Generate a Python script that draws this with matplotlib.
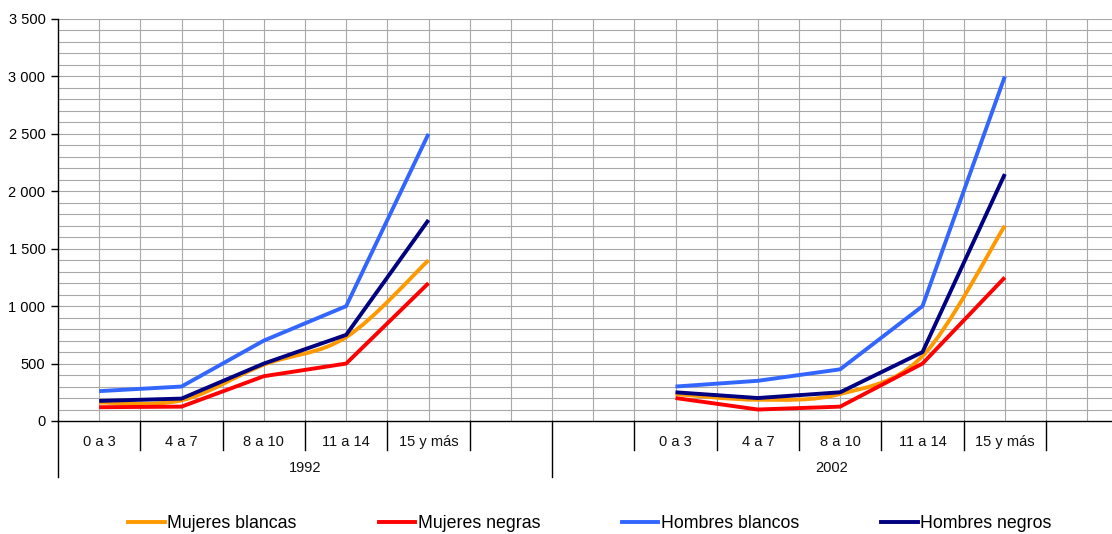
import matplotlib
matplotlib.use("Agg")
import matplotlib.pyplot as plt
import numpy as np
from matplotlib.path import Path
from matplotlib.patches import PathPatch
from matplotlib.lines import Line2D

plt.rcParams['font.family'] = ['Liberation Sans', 'DejaVu Sans']

# ---------------- data ----------------
categories = ["0 a 3", "4 a 7", "8 a 10", "11 a 14", "15 y más"]
years = ["1992", "2002"]
series_names = ["Mujeres blancas", "Mujeres negras", "Hombres blancos", "Hombres negros"]

mujeres_blancas_1992 = [160, 180, 490, 730, 1400]
mujeres_negras_1992 = [120, 125, 390, 500, 1200]
hombres_blancos_1992 = [260, 300, 700, 1000, 2500]
hombres_negros_1992 = [175, 195, 500, 750, 1750]

mujeres_blancas_2002 = [235, 185, 235, 565, 1700]
mujeres_negras_2002 = [200, 100, 125, 500, 1250]
hombres_blancos_2002 = [300, 350, 450, 1000, 3000]
hombres_negros_2002 = [250, 200, 250, 600, 2150]

y_ticks = [0, 500, 1000, 1500, 2000, 2500, 3000, 3500]

# ---------------- style ----------------
colors = ["#FF9900", "#FF0000", "#3366FF", "#000080"]
smoothed = [True, False, False, False]
W, H = 1112, 534
fig = plt.figure(figsize=(W / 100, H / 100), dpi=100)
ax_left, ax_right, ax_top, ax_bottom = 58, 1112, 19, 421
ax = fig.add_axes([ax_left / W, 1 - ax_bottom / H, (ax_right - ax_left) / W, (ax_bottom - ax_top) / H])

slot_px = (552 - 58) / 6.0
n_slots = (ax_right - ax_left) / slot_px
ax.set_xlim(0, n_slots)
ax.set_ylim(0, 3500)

# slot layout: 1992 -> slots 0..5 (5 categories + blank), 2002 -> blank slot 6, categories 7..11
group_start_slot = {"1992": 0, "2002": 7}
group_bounds = {"1992": (0, 6), "2002": (6, n_slots)}

# grid
for yv in np.arange(100, 3501, 100):
    ax.axhline(yv, color="#a8a8a8", lw=0.8, zorder=1)
for xv in np.arange(0.5, n_slots, 0.5):
    ax.axvline(xv, color="#a8a8a8", lw=0.8, zorder=1)

for s in ["top", "right"]:
    ax.spines[s].set_visible(False)
ax.spines["left"].set_linewidth(1.0)
ax.spines["bottom"].set_linewidth(1.0)
ax.spines["left"].set_zorder(5)
ax.spines["bottom"].set_zorder(5)

ax.set_yticks(y_ticks)
ax.set_yticklabels([f"{v:,}".replace(",", " ") for v in y_ticks], fontsize=10.5)
ax.tick_params(axis="y", length=5, width=1, pad=4)
ax.set_xticks([])


def line_path(xs, ys, smooth, t=1.0 / 6.0):
    pts = np.column_stack([np.asarray(xs, float), np.asarray(ys, float)])
    n = len(pts)
    if not smooth:
        return Path(pts, [Path.MOVETO] + [Path.LINETO] * (n - 1))
    verts = [pts[0]]
    codes = [Path.MOVETO]
    for i in range(n - 1):
        p0 = pts[i - 1] if i > 0 else pts[i]
        p1 = pts[i]
        p2 = pts[i + 1]
        p3 = pts[i + 2] if i + 2 < n else pts[i + 1]
        c1 = p1 + (p2 - p0) * t
        c2 = p2 - (p3 - p1) * t
        verts += [c1, c2, p2]
        codes += [Path.CURVE4] * 3
    return Path(verts, codes)


data = {
    "1992": [mujeres_blancas_1992, mujeres_negras_1992, hombres_blancos_1992, hombres_negros_1992],
    "2002": [mujeres_blancas_2002, mujeres_negras_2002, hombres_blancos_2002, hombres_negros_2002],
}

for year in years:
    xs = [group_start_slot[year] + i + 0.5 for i in range(len(categories))]
    for vals, c, sm in zip(data[year], colors, smoothed):
        patch = PathPatch(line_path(xs, vals, sm), fill=False, edgecolor=c, lw=2.8,
                          capstyle="butt", joinstyle="round", zorder=3, clip_on=False)
        ax.add_patch(patch)

# category axis: ticks and labels
trans = ax.get_xaxis_transform()
axh = ax_bottom - ax_top
short_len = 29 / axh
long_len = 56 / axh
cat_y = -(442 - ax_bottom) / axh
year_y = -(468 - ax_bottom) / axh

boundaries_short = []
for year in years:
    s0 = group_start_slot[year]
    for i in range(len(categories)):
        ax.text(s0 + i + 0.5, cat_y, categories[i], transform=trans, ha="center", va="center",
                fontsize=10.5, color="#111111")
        boundaries_short += [s0 + i, s0 + i + 1]
    lo, hi = group_bounds[year]
    ax.text((lo + hi) / 2, year_y, year, transform=trans, ha="center", va="center",
            fontsize=10.5, color="#111111")

long_bounds = [0, 6]
for b in sorted(set(boundaries_short)):
    if b in long_bounds:
        continue
    ax.add_line(Line2D([b, b], [0, -short_len], transform=trans, color="black", lw=1.0, clip_on=False))
for b in long_bounds:
    ax.add_line(Line2D([b, b], [0, -long_len], transform=trans, color="black", lw=1.0, clip_on=False))

# legend
handles = [Line2D([], [], color=c, lw=2.8) for c in colors]
fig.legend(handles, series_names, loc="center", bbox_to_anchor=(590 / W, 1 - 524 / H), ncol=4,
           frameon=False, fontsize=12.8, handlelength=2.05, handletextpad=0.15, columnspacing=4.6,
           borderpad=0.2)

fig.savefig("out.png", dpi=100)
